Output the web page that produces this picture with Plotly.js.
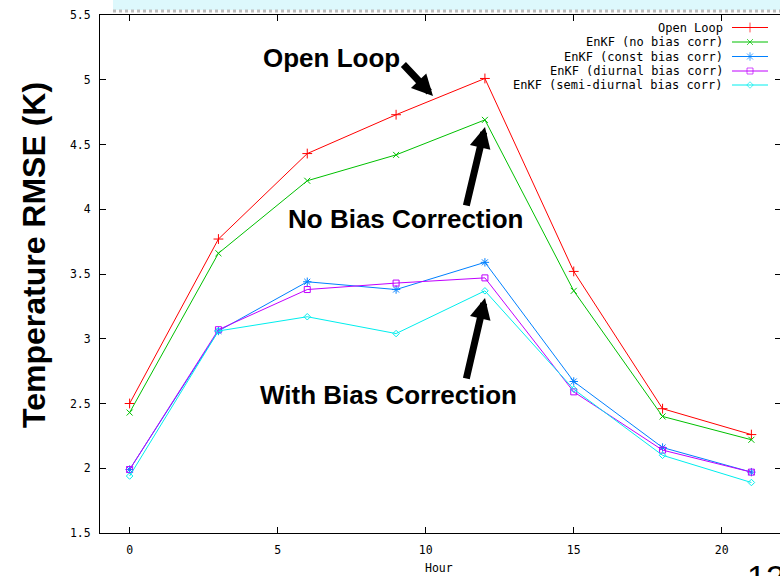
<!DOCTYPE html>
<html>
<head>
<meta charset="utf-8">
<script src="https://cdn.plot.ly/plotly-3.0.1.min.js"></script>
<style>
html,body{margin:0;padding:0;background:#fff;overflow:hidden;}
#chart{width:781px;height:576px;}
</style>
</head>
<body>
<div id="chart"></div>
<script>
// ---- data ----
var hours = [0, 3, 6, 9, 12, 15, 18, 21];
var openLoop    = [2.50, 3.77, 4.43, 4.73, 5.01, 3.52, 2.46, 2.26];
var noBias      = [2.43, 3.66, 4.22, 4.42, 4.69, 3.37, 2.40, 2.22];
var constBias   = [1.99, 3.06, 3.44, 3.38, 3.59, 2.67, 2.16, 1.97];
var diurnal     = [1.99, 3.07, 3.38, 3.43, 3.47, 2.59, 2.14, 1.97];
var semiDiurnal = [1.94, 3.06, 3.17, 3.04, 3.37, 2.61, 2.10, 1.89];
var seriesNames = ['Open Loop', 'EnKF (no bias corr)', 'EnKF (const bias corr)',
                   'EnKF (diurnal bias corr)', 'EnKF (semi-diurnal bias corr)'];
var xTicks = [0, 5, 10, 15, 20];
var yTicks = [1.5, 2, 2.5, 3, 3.5, 4, 4.5, 5, 5.5];

// ---- styling ----
var seriesData = [openLoop, noBias, constBias, diurnal, semiDiurnal];
var colors  = ['#ff0000', '#00c000', '#0080ff', '#c000ff', '#00eeee'];
var symbols = ['cross-thin-open', 'x-thin-open', 'asterisk-open', 'square-open', 'diamond-open'];
var sizes   = [7, 6, 7, 6, 5];

// plot area geometry (pixels) for placing decorations
var L = 100, R = 781, T = 15, B = 533;
function px(x){ return (x - L) / (R - L); }
function py(y){ return (B - y) / (B - T); }

var mono = 'DejaVu Sans Mono, Liberation Mono, monospace';
var bold = 'Liberation Sans, Arial, sans-serif';

var traces = [];
for (var i = 0; i < seriesData.length; i++) {
  traces.push({
    x: hours, y: seriesData[i], type: 'scatter', mode: 'lines+markers',
    name: seriesNames[i], showlegend: false,
    line: {color: colors[i], width: 1},
    marker: {symbol: symbols[i], size: sizes[i], color: colors[i], line: {color: colors[i], width: 1}}
  });
}
// legend samples (gnuplot style: text then sample on the right)
var legRows = [27.5, 42, 56.5, 71, 85];
var annotations = [];
for (var i = 0; i < seriesNames.length; i++) {
  var yy = py(legRows[i]);
  traces.push({
    x: [px(732), px(750), px(768)], y: [yy, yy, yy], xaxis: 'x2', yaxis: 'y2',
    type: 'scatter', mode: 'lines+markers', showlegend: false, hoverinfo: 'skip',
    line: {color: colors[i], width: 1},
    marker: {symbol: symbols[i], size: [0, sizes[i], 0], color: colors[i], line: {color: colors[i], width: 1}}
  });
  annotations.push({
    xref: 'paper', yref: 'paper', x: px(725), y: yy, xanchor: 'right', yanchor: 'middle',
    text: seriesNames[i], showarrow: false, font: {family: mono, size: 12, color: '#000'}
  });
}

// text labels
annotations.push(
  {xref:'paper', yref:'paper', x: px(331), y: py(58), text: '<b>Open Loop</b>', showarrow:false,
   xanchor:'center', yanchor:'middle', font:{family:bold, size:26, color:'#000'}},
  {xref:'paper', yref:'paper', x: px(406), y: py(219), text: '<b>No Bias Correction</b>', showarrow:false,
   xanchor:'center', yanchor:'middle', font:{family:bold, size:26, color:'#000'}},
  {xref:'paper', yref:'paper', x: px(388), y: py(395), text: '<b>With Bias Correction</b>', showarrow:false,
   xanchor:'center', yanchor:'middle', font:{family:bold, size:26, color:'#000'}},
  {xref:'paper', yref:'paper', x: px(34), y: py(255), text: '<b>Temperature RMSE (K)</b>', showarrow:false,
   textangle:-90, xanchor:'center', yanchor:'middle', font:{family:bold, size:32, color:'#000'}},
  {xref:'paper', yref:'paper', x: px(439), y: py(568), text: 'Hour', showarrow:false,
   xanchor:'center', yanchor:'middle', font:{family:mono, size:11.5, color:'#000'}},
  {xref:'paper', yref:'paper', x: px(745), y: py(556), text: '12', showarrow:false,
   xanchor:'left', yanchor:'top', font:{family:'Liberation Sans, Arial, sans-serif', size:34, color:'#000'}}
);
// arrows
var arrowDefs = [
  {tip:[433, 96], tail:[402, 63]},
  {tip:[485, 127], tail:[466, 207]},
  {tip:[485, 298], tail:[466, 380]}
];
arrowDefs.forEach(function(a){
  annotations.push({
    xref:'paper', yref:'paper', x: px(a.tip[0]), y: py(a.tip[1]), text:'', showarrow:true,
    ax: a.tail[0]-a.tip[0], ay: a.tail[1]-a.tip[1],
    arrowhead: 2, arrowsize: 0.6, arrowwidth: 7, arrowcolor:'#000', standoff: 0
  });
});

var layout = {
  width: 781, height: 576,
  margin: {l: L, r: 0, t: T, b: 576 - B, pad: 0},
  paper_bgcolor: '#fff', plot_bgcolor: '#fff',
  showlegend: false,
  xaxis: {
    range: [-1, 22], tickvals: xTicks, ticktext: xTicks.map(String),
    ticks: 'inside', ticklen: 6, tickcolor: '#000', tickwidth: 1,
    showline: true, linecolor: '#000', linewidth: 1, mirror: 'ticks',
    showgrid: false, zeroline: false, ticklabelstandoff: 6,
    tickfont: {family: mono, size: 11.5, color: '#000'}
  },
  yaxis: {
    range: [1.5, 5.5], tickvals: yTicks, ticktext: yTicks.map(String),
    ticks: 'inside', ticklen: 6, tickcolor: '#000', tickwidth: 1,
    showline: true, linecolor: '#000', linewidth: 1, mirror: 'ticks',
    showgrid: false, zeroline: false, ticklabelstandoff: 6,
    tickfont: {family: mono, size: 11.5, color: '#000'}
  },
  xaxis2: {overlaying: 'x', range: [0, 1], visible: false},
  yaxis2: {overlaying: 'y', range: [0, 1], visible: false},
  shapes: [
    {type:'rect', xref:'paper', yref:'paper', x0: px(113), x1: px(781), y0: py(10), y1: py(-2),
     fillcolor:'#ddf8fc', line:{width:0}, layer:'below'},
    {type:'line', xref:'paper', yref:'paper', x0: px(113), x1: px(781), y0: py(11), y1: py(11),
     line:{color:'#bdbdbd', width:3, dash:'dot'}}
  ],
  annotations: annotations
};

Plotly.newPlot('chart', traces, layout, {staticPlot: true, displayModeBar: false});
</script>
</body>
</html>
